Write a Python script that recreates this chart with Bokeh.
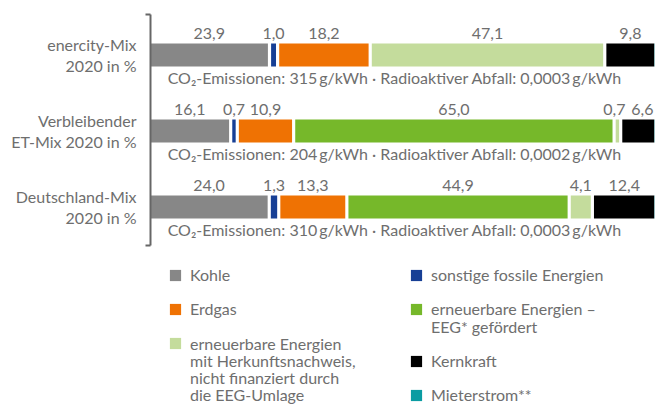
from bokeh.plotting import figure
from bokeh.models import Range1d, FixedTicker, ColumnDataSource, Legend, LegendItem
from bokeh.embed import file_html
from bokeh.resources import INLINE
from bokeh.core.properties import value

# ---------------- data ----------------
rows = ["enercity-Mix\n2020 in %", "Verbleibender\nET-Mix 2020 in %", "Deutschland-Mix\n2020 in %"]
series_names = [
    "Kohle",
    "sonstige fossile Energien",
    "Erdgas",
    "erneuerbare Energien –\nEEG* gefördert",
    "erneuerbare Energien\nmit Herkunftsnachweis,\nnicht finanziert durch\ndie EEG-Umlage",
    "Kernkraft",
    "Mieterstrom**",
]
kohle = [23.9, 16.1, 24.0]
sonstige = [1.0, 0.7, 1.3]
erdgas = [18.2, 10.9, 13.3]
eeg = [0.0, 65.0, 44.9]
hkn = [47.1, 0.7, 4.1]
kern = [9.8, 6.6, 12.4]
mieter = [0.0, 0.0, 0.0]
co2 = ["315", "204", "310"]
abfall = ["0,0003", "0,0002", "0,0003"]

colors = ["#878787", "#173f95", "#ef7203", "#76b82a", "#c4dc9c", "#000000", "#0a9ca2"]
TEXT = "#6e6e6e"
FONT = "Lato"
FS = "16px"

series = [kohle, sonstige, erdgas, eeg, hkn, kern, mieter]
GAP = 0.65  # visual gap between segments, in percent units
# small horizontal nudges (screen px) for crowded value labels: (series, row) -> px
nudge = {(4, 1): -3, (5, 1): 4}

ys = [0, 1, 2]
lefts = [[0.0] * len(rows) for _ in series]
rights = [[0.0] * len(rows) for _ in series]
for r in range(len(rows)):
    vals = [s[r] for s in series]
    nz = sum(1 for v in vals if v > 0)
    f = 100.0 / (sum(vals) + (nz - 1) * GAP)
    pos = 0.0
    for i, v in enumerate(vals):
        lefts[i][r] = pos * f
        rights[i][r] = (pos + v) * f
        if v > 0:
            pos += v + GAP

TOP = -0.533
BOTTOM = 2.507
PX_PER_UNIT = 76.0
H = 406
FRAME_H = H - 14

p = figure(width=657, height=H, output_backend="svg", toolbar_location=None,
           x_range=Range1d(0, 100),
           y_range=Range1d(TOP + FRAME_H / PX_PER_UNIT, TOP),
           min_border_left=150, min_border_right=3, min_border_top=14, min_border_bottom=0)
p.xaxis.visible = False
p.xgrid.visible = False
p.ygrid.visible = False
p.outline_line_color = None

renderers = []
label_x, label_y, label_t, label_dx = [], [], [], []
for i, s in enumerate(series):
    src = ColumnDataSource(dict(y=ys, left=lefts[i], right=rights[i]))
    r = p.hbar(y="y", left="left", right="right", height=0.30, source=src,
               fill_color=colors[i], line_color=None)
    renderers.append(r)
    for k in range(len(rows)):
        if s[k] > 0:
            label_x.append((lefts[i][k] + rights[i][k]) / 2)
            label_y.append(ys[k] - 0.285)
            label_t.append(f"{s[k]:.1f}".replace(".", ","))
            label_dx.append(nudge.get((i, k), 0))

p.text(x="x", y="y", text="t", x_offset="dx",
       source=ColumnDataSource(dict(x=label_x, y=label_y, t=label_t, dx=label_dx)),
       text_align="center", text_baseline="middle",
       text_font=value(FONT), text_font_size=FS, text_color=TEXT)

info = [f"CO₂-Emissionen: {c}\u2009g/kWh · Radioaktiver Abfall: {a}\u2009g/kWh" for c, a in zip(co2, abfall)]
p.text(x=[3.4] * 3, y=[y + 0.30 for y in ys], text=info, text_align="left", text_baseline="middle",
       text_font=value(FONT), text_font_size=FS, text_color=TEXT)

ax = p.yaxis[0]
ax.ticker = FixedTicker(ticks=ys, minor_ticks=[TOP, BOTTOM])
ax.bounds = (TOP, BOTTOM)
ax.major_label_overrides = {y: lab for y, lab in zip(ys, rows)}
ax.axis_line_color = "#666666"
ax.axis_line_width = 2
ax.major_tick_line_color = None
ax.major_tick_out = 0
ax.major_tick_in = 0
ax.minor_tick_line_color = "#666666"
ax.minor_tick_line_width = 2
ax.minor_tick_out = 5
ax.minor_tick_in = 0
ax.major_label_standoff = 9
ax.major_label_text_font = FONT
ax.major_label_text_font_size = FS
ax.major_label_text_color = TEXT
ax.major_label_text_line_height = 1.1

# invisible renderer for continuation lines of multi-line legend labels
blank = p.hbar(y=[], left=[], right=[], height=0.3, fill_alpha=0, line_alpha=0)

# legend layout: two columns, each entry occupies whole text lines
LEG_FIRST = 275     # screen y of first legend line centre
LEG_PITCH = 17.2    # line pitch
LEG_HALF = 9        # half of a legend item's height
columns = [(18, [0, 2, 4]), (259, [1, 3, 5, 6])]
for xloc, idx in columns:
    line_no = 0
    for i in idx:
        for j, txt in enumerate(series_names[i].split("\n")):
            rend = renderers[i] if j == 0 else blank
            centre = LEG_FIRST + line_no * LEG_PITCH
            lg = Legend(items=[LegendItem(label=txt, renderers=[rend])],
                        location=(xloc, H - centre - LEG_HALF), orientation="vertical",
                        glyph_width=14, glyph_height=14, label_standoff=8, label_height=17,
                        spacing=0, padding=0, margin=0, border_line_color=None,
                        background_fill_alpha=0,
                        label_text_font=FONT, label_text_font_size=FS, label_text_color=TEXT)
            p.add_layout(lg, "center")
            line_no += 1
        line_no += 1

open("out.html", "w").write(file_html(p, INLINE))
